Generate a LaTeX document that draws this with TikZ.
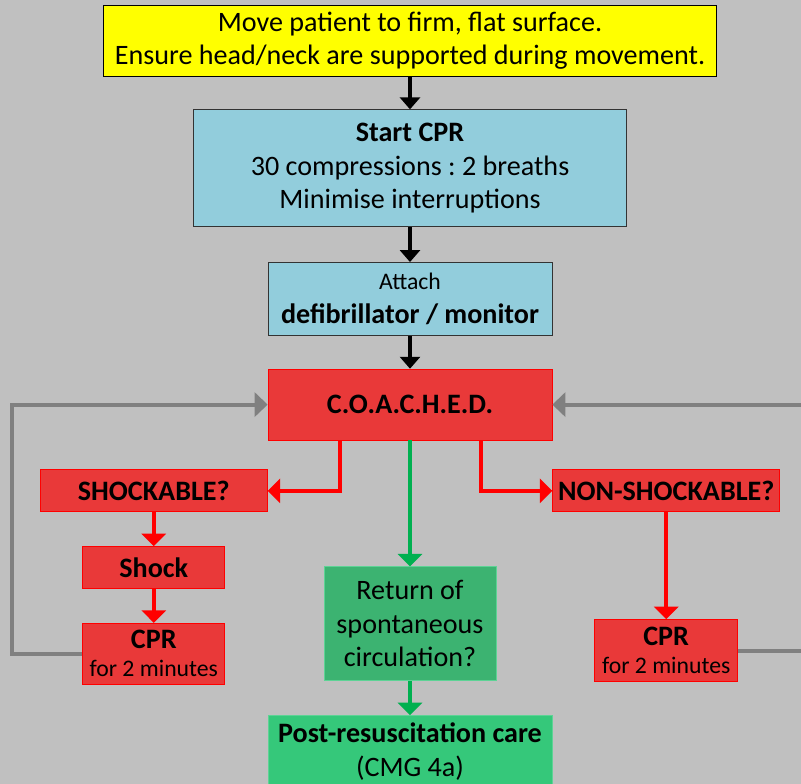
\documentclass[tikz,border=0pt]{standalone}
\usepackage{fontspec}
\setmainfont{Carlito}
\usetikzlibrary{positioning, arrows.meta}

\definecolor{bggray}{RGB}{192,192,192}
\definecolor{boxyellow}{RGB}{255,255,0}
\definecolor{boxblue}{RGB}{146,205,220}
\definecolor{boxred}{RGB}{233,57,57}
\definecolor{roscgreen}{RGB}{60,179,113}
\definecolor{postgreen}{RGB}{53,200,122}
\definecolor{arrowgreen}{RGB}{0,176,80}
\definecolor{arrowgray}{RGB}{128,128,128}

\begin{document}
\begin{tikzpicture}[node distance=0.66cm, font=\fontsize{16}{19}\selectfont\frenchspacing,
  box/.style={draw, align=center, inner sep=0pt},
  yellowbox/.style={box, fill=boxyellow, draw=black},
  bluebox/.style={box, fill=boxblue, draw=black!80},
  redbox/.style={box, fill=boxred, draw=red},
  greenbox/.style={box, fill=#1, draw=postgreen!80!white},
  blackarrow/.style={line width=0.07cm, -{Triangle[width=0.4cm, length=0.24cm]}},
  redarrow/.style={red, line width=0.08cm, -{Triangle[width=0.48cm, length=0.25cm]}},
  greenarrow/.style={arrowgreen, line width=0.08cm, -{Triangle[width=0.48cm, length=0.25cm]}},
  grayarrow/.style={arrowgray, line width=0.08cm, -{Triangle[width=0.48cm, length=0.26cm]}}]
  \fill[bggray] (0,0) rectangle (16.02,-15.68);
  \useasboundingbox (0,0) rectangle (16.02,-15.68);

  \node[yellowbox, minimum width=12.26cm, minimum height=1.42cm] (move) at (8.2,-0.81)
    {Move patient to firm, flat surface.\\Ensure head/neck are supported during movement.};
  \node[bluebox, minimum width=8.66cm, minimum height=2.34cm, below=of move] (start cpr)
    {\textbf{Start CPR}\\30 compressions : 2 breaths\\Minimise interruptions};
  \node[bluebox, minimum width=5.68cm, minimum height=1.46cm, below=0.7cm of start cpr] (attach)
    {{\fontsize{13.5}{15}\selectfont Attach}\\\textbf{defibrillator / monitor}};
  \node[redbox, minimum width=5.68cm, minimum height=1.42cm, below=of attach] (coached)
    {\textbf{C.O.A.C.H.E.D.}};
  \node[redbox, minimum width=4.54cm, minimum height=0.84cm,
    below left=0.58cm and 0cm of coached.south west] (shockable) {\textbf{SHOCKABLE?}};
  \node[redbox, minimum width=4.54cm, minimum height=0.84cm,
    below right=0.58cm and 0cm of coached.south east] (non shockable) {\textbf{NON-SHOCKABLE?}};
  \node[redbox, minimum width=2.84cm, minimum height=0.84cm, below=0.68cm of shockable] (shock)
    {\textbf{Shock}};
  \node[redbox, minimum width=2.84cm, minimum height=1.22cm, below=0.68cm of shock] (cpr left)
    {\textbf{CPR}\\[-3pt]{\fontsize{13.5}{15}\selectfont for 2 minutes}};
  \node[redbox, minimum width=2.86cm, minimum height=1.24cm, below=2.14cm of non shockable] (cpr right)
    {\textbf{CPR}\\[-3pt]{\fontsize{13.5}{15}\selectfont for 2 minutes}};
  \node[greenbox=roscgreen, minimum width=3.44cm, minimum height=2.28cm, below=2.52cm of coached] (rosc)
    {Return of\\spontaneous\\circulation?};
  \node[greenbox=postgreen, minimum width=5.68cm, minimum height=1.44cm, below=0.68cm of rosc] (post care)
    {\textbf{Post-resuscitation care}\\(CMG 4a)};

  \coordinate (loop left) at (0.24,0);
  \coordinate (loop right) at (16.4,0);

  \draw[blackarrow] (move) -- (start cpr);
  \draw[blackarrow] (start cpr) -- (attach);
  \draw[blackarrow] (attach) -- (coached);
  \draw[redarrow] ([xshift=-1.4cm]coached.south) |- (shockable);
  \draw[redarrow] ([xshift=1.42cm]coached.south) |- (non shockable);
  \draw[redarrow] (shock.north|-shockable.south) -- (shock);
  \draw[redarrow] (shock) -- (cpr left);
  \draw[redarrow] (cpr right.north|-non shockable.south) -- (cpr right);
  \draw[greenarrow] (coached) -- (rosc);
  \draw[greenarrow] (rosc) -- (post care);
  \draw[grayarrow] (cpr left.west) -- (cpr left.west-|loop left) -- (loop left|-coached) -- (coached);
  \draw[grayarrow] (cpr right.east) -- (cpr right.east-|loop right) -- (loop right|-coached) -- (coached);
\end{tikzpicture}
\end{document}
